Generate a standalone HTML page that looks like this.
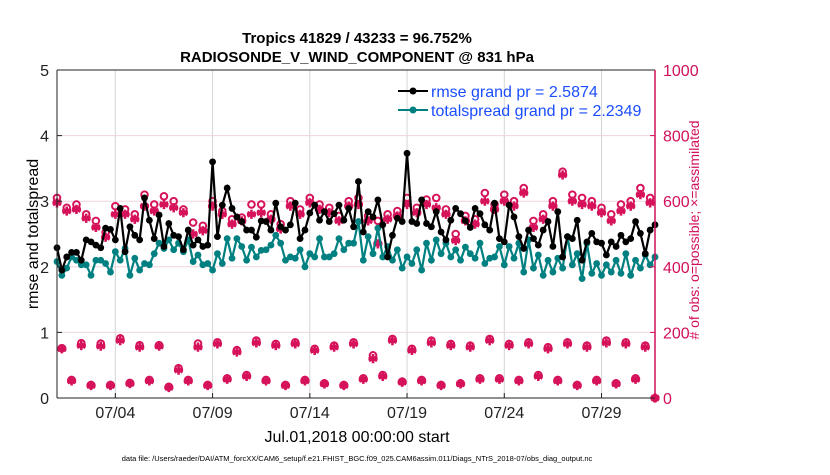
<!DOCTYPE html>
<html><head><meta charset="utf-8">
<style>
body{margin:0;background:#fff;width:830px;height:470px;overflow:hidden;font-family:"Liberation Sans",Arial,sans-serif}
svg text{font-family:"Liberation Sans",Arial,sans-serif}
</style></head>
<body>
<svg id="chart" width="830" height="470" xmlns="http://www.w3.org/2000/svg">
<g id="grid"></g>
<g id="series"></g>
<g id="axes"></g>
<text x="357" y="43" text-anchor="middle" font-size="15" font-weight="bold">Tropics 41829 / 43233 = 96.752%</text>
<text x="357" y="62" text-anchor="middle" font-size="15" font-weight="bold">RADIOSONDE_V_WIND_COMPONENT @ 831 hPa</text>
<text x="357" y="442" text-anchor="middle" font-size="16">Jul.01,2018 00:00:00 start</text>
<text transform="translate(38,234) rotate(-90)" text-anchor="middle" font-size="16">rmse and totalspread</text>
<text transform="translate(699,230) rotate(-90)" text-anchor="middle" font-size="14" fill="#d0105a"># of obs: o=possible; ×=assimilated</text>
<text x="357" y="461" text-anchor="middle" font-size="7.5">data file: /Users/raeder/DAI/ATM_forcXX/CAM6_setup/f.e21.FHIST_BGC.f09_025.CAM6assim.011/Diags_NTrS_2018-07/obs_diag_output.nc</text>
<g>
<line x1="398" y1="91" x2="428" y2="91" stroke="#000" stroke-width="2"/><circle cx="413" cy="91" r="3.5" fill="#000"/>
<text x="431" y="97" font-size="16" fill="#1a4dff">rmse grand pr = 2.5874</text>
<line x1="398" y1="110" x2="428" y2="110" stroke="#008080" stroke-width="2"/><circle cx="413" cy="110" r="3.5" fill="#008080"/>
<text x="431" y="116" font-size="16" fill="#1a4dff">totalspread grand pr = 2.2349</text>
</g>
</svg>
<script>
const rmse=[2.29,1.95,2.15,2.22,2.22,2.10,2.41,2.38,2.33,2.29,2.59,2.57,2.41,2.89,2.23,2.61,2.48,2.41,3.05,2.71,2.43,2.79,2.31,2.66,2.48,2.46,2.26,2.56,2.33,2.41,2.31,2.33,3.60,2.46,2.94,3.20,2.89,2.76,2.69,2.56,2.56,2.45,2.70,
2.69,2.56,2.97,2.61,2.56,2.64,2.97,2.43,2.56,2.82,2.94,2.71,2.84,2.69,2.81,2.94,2.71,2.89,2.61,3.30,2.53,2.84,2.76,3.02,2.64,2.15,2.48,2.74,2.69,3.73,2.69,2.66,3.02,2.66,2.61,2.84,2.53,2.41,2.71,2.89,2.81,2.70,2.60,
2.89,2.81,2.64,2.56,2.97,2.43,2.38,2.94,2.76,2.46,2.28,2.56,2.43,2.33,2.56,2.69,2.31,2.84,2.15,2.46,2.43,2.71,2.10,2.38,2.51,2.38,2.36,2.18,2.38,2.31,2.48,2.38,2.43,2.69,2.51,2.20,2.56,2.64];
const spread=[2.08,1.87,1.98,2.15,2.10,2.03,2.03,1.87,2.10,2.10,2.05,1.92,2.23,2.10,2.28,1.87,2.13,1.95,2.05,2.03,2.20,2.36,2.28,2.41,2.26,2.36,2.23,2.41,2.08,2.18,2.03,2.05,1.95,2.20,2.05,2.43,2.13,2.43,2.31,2.10,2.30,2.15,2.25,
2.26,2.33,2.48,2.36,2.10,2.15,2.13,2.26,2.00,2.20,2.15,2.43,2.15,2.15,2.20,2.43,2.26,2.36,2.36,2.69,2.10,2.46,2.20,2.59,2.15,2.31,2.10,2.26,1.98,2.15,2.05,2.26,1.95,2.36,2.10,2.41,2.20,2.36,2.15,2.26,2.10,2.30,2.20,
2.13,2.36,2.05,2.13,2.15,2.31,2.03,2.31,2.13,2.36,1.92,2.41,1.98,2.18,1.87,2.10,1.92,2.13,1.98,2.46,2.03,2.20,1.82,2.36,1.90,2.05,1.87,2.03,1.92,2.10,1.90,2.20,1.87,2.10,1.98,2.18,2.03,2.15];
const nPossible=[610,152,580,55,590,167,560,40,540,166,505,40,585,182,575,46,560,161,620,55,590,161,615,34,600,91,575,55,535,166,525,40,600,170,570,60,545,146,550,70,590,175,590,55,560,165,530,40,600,170,575,55,610,150,590,45,580,160,555,40,600,170,610,60,555,130,540,70,560,180,570,50,610,150,580,55,605,175,610,40,575,165,500,45,555,160,545,60,625,180,590,60,620,165,600,55,640,170,540,70,560,155,600,55,690,170,620,40,610,160,600,55,580,175,560,45,590,170,600,60,640,160,610,0];
const nAssim=[595,150,570,52,575,160,548,38,520,158,490,38,560,175,560,44,545,155,585,52,570,158,590,32,580,85,565,52,500,155,510,38,585,165,560,57,530,140,540,66,560,168,565,52,545,160,515,38,585,165,560,52,595,145,575,43,565,155,540,38,585,165,590,57,540,120,470,66,545,175,555,48,590,145,565,52,590,168,580,38,560,160,480,43,540,155,530,57,600,175,575,57,600,160,585,52,625,165,520,66,545,150,585,52,680,165,600,38,590,155,585,52,565,168,540,43,570,165,585,57,620,155,595,0];
const dayTicks=[3,8,13,18,23,28];
const dayLabels=["07/04","07/09","07/14","07/19","07/24","07/29"];
const leftTicks=[0,1,2,3,4,5];
const rightTicks=[0,200,400,600,800,1000];

const X0=57,X1=655,Y0=398,Y1=70,DAYS=30.75;
const ns="http://www.w3.org/2000/svg";
const xs=d=>X0+(X1-X0)*d/DAYS;
const yl=v=>Y0-(Y0-Y1)*v/5;
const yr=v=>Y0-(Y0-Y1)*v/1000;
const tOf=i=>i*0.25;
function mk(tag,attrs,parent){const e=document.createElementNS(ns,tag);for(const k in attrs)e.setAttribute(k,attrs[k]);parent.appendChild(e);return e;}
const grid=document.getElementById('grid'),ser=document.getElementById('series'),ax=document.getElementById('axes');

dayTicks.forEach((d,i)=>{
 const l=mk('line',{x1:xs(d),x2:xs(d),y1:Y1,y2:Y0,stroke:'#d4d4d4','stroke-width':1},grid);
 
 
 const tk=mk('line',{x1:xs(d),x2:xs(d),y1:Y0,y2:Y0-5,stroke:'#222'},ax);
 
 
 const t=mk('text',{x:xs(d),y:418,'text-anchor':'middle','font-size':16,fill:'#222'},ax);
 t.textContent=dayLabels[i];
 
 
});
rightTicks.forEach(v=>{
 if(v>0&&v<1000){const g=mk('line',{x1:X0,x2:X1,y1:yr(v),y2:yr(v),stroke:'#f0d4de','stroke-width':1},grid);
 
 }
 const tk=mk('line',{x1:X1,x2:X1-5,y1:yr(v),y2:yr(v),stroke:'#d0105a'},ax);
 
 
 const t=mk('text',{x:X1+8,y:yr(v)+6,'font-size':16,fill:'#d0105a'},ax);
 t.textContent=v;
 
 
});
leftTicks.forEach(v=>{
 const tk=mk('line',{x1:X0,x2:X0+5,y1:yl(v),y2:yl(v),stroke:'#222'},ax);
 
 
 const t=mk('text',{x:X0-8,y:yl(v)+6,'font-size':16,'text-anchor':'end',fill:'#222'},ax);
 t.textContent=v;
 
 
});
const frame=[['line',{x1:X0,x2:X0,y1:Y1,y2:Y0,stroke:'#222'}],['line',{x1:X0,x2:X1,y1:Y0,y2:Y0,stroke:'#222'}],['line',{x1:X0,x2:X1,y1:Y1,y2:Y1,stroke:'#222'}],['line',{x1:X1,x2:X1,y1:Y1,y2:Y0,stroke:'#d0105a','stroke-width':1.5}]];
frame.forEach(f=>{const e=mk(f[0],f[1],ax);
 
 });

function star(cx,cy,c){const r=4.6;let d='';for(let k=0;k<3;k++){const a=Math.PI/2+k*Math.PI/3;const dx=r*Math.cos(a),dy=r*Math.sin(a);d+=`M${cx-dx},${cy-dy}L${cx+dx},${cy+dy}`;}
 d+=`M${cx-r},${cy}L${cx+r},${cy}`;
 const p=mk('path',{d:d,stroke:c,'stroke-width':2.6,fill:'none'},ser);
 
 
 const ctr=mk('circle',{cx:cx,cy:cy,r:2.6,fill:c},ser);
 
 }
nAssim.forEach((v,i)=>star(xs(tOf(i)),yr(v),'#d6125a'));
nPossible.forEach((v,i)=>{const c=mk('circle',{cx:xs(tOf(i)),cy:yr(v),r:3.3,fill:'none',stroke:'#d6125a','stroke-width':2},ser);
 
 });

function series(arr,color,name){
 const pts=arr.map((v,i)=>xs(tOf(i))+','+yl(v)).join(' ');
 const pl=mk('polyline',{points:pts,fill:'none',stroke:color,'stroke-width':2.2},ser);
 
 
 arr.forEach((v,i)=>{const c=mk('circle',{cx:xs(tOf(i)),cy:yl(v),r:3.4,fill:color},ser);
 
 });
}
series(spread,'#008080','totalspread');
series(rmse,'#000000','rmse');
</script>
</body></html>
